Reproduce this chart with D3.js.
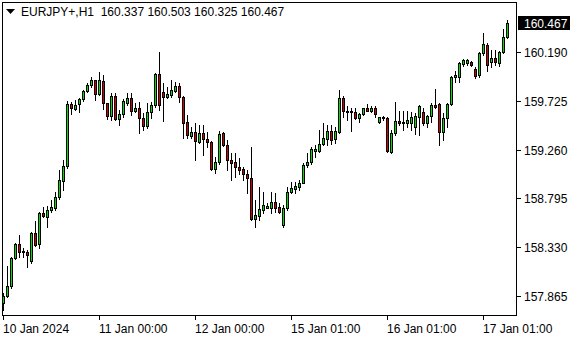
<!DOCTYPE html>
<html>
<head>
<meta charset="utf-8">
<script src="https://cdn.jsdelivr.net/npm/d3@7"></script>
<style>
  body { margin: 0; background: #fff; }
  text { font-family: "Liberation Sans", Arial, sans-serif; font-size: 12px; }
</style>
</head>
<body>
<div id="chart"></div>
<script>
// EURJPY+ H1 bars, oldest first
var opens = [157.796,157.863,157.959,158.226,158.360,158.288,158.283,158.200,158.465,158.360,
  158.659,158.620,158.684,158.704,158.809,158.961,159.105,159.697,159.652,159.694,
  159.744,159.821,159.875,159.923,159.789,159.916,159.703,159.585,159.773,159.551,
  159.598,159.709,159.751,159.633,159.656,159.560,159.490,159.617,159.687,159.980,
  159.814,159.761,159.783,159.823,159.868,159.766,159.528,159.391,159.432,159.337,
  159.417,159.363,159.331,159.073,159.140,159.417,159.305,159.162,159.143,159.092,
  159.073,159.028,158.987,158.599,158.630,158.684,158.707,158.707,158.764,158.716,
  158.541,158.701,158.853,158.882,158.907,158.945,159.114,159.140,159.251,159.251,
  159.312,159.363,159.442,159.359,159.432,159.751,159.633,159.623,159.623,159.560,
  159.601,159.656,159.630,159.656,159.528,159.560,159.560,159.241,159.417,159.537,
  159.512,159.512,159.512,159.480,159.570,159.617,159.512,159.582,159.687,159.697,
  159.432,159.560,159.697,159.952,159.952,160.076,160.085,160.098,160.031,159.971,
  160.181,160.260,160.098,160.133,160.085,160.190,160.337];

var highs = [157.892,158.150,158.236,158.369,158.446,158.321,158.302,158.474,158.579,158.665,
  158.716,158.723,158.780,158.856,159.066,159.162,159.725,159.719,159.735,159.757,
  159.830,159.894,159.957,159.926,159.999,159.974,159.709,159.799,159.799,159.639,
  159.742,159.799,159.799,159.703,159.719,159.608,159.703,159.719,159.990,160.193,
  159.894,159.862,159.926,159.910,159.894,159.770,159.592,159.480,159.512,159.496,
  159.496,159.432,159.340,159.194,159.442,159.432,159.353,159.226,159.226,159.181,
  159.098,159.066,159.289,158.780,158.907,158.860,158.754,158.859,158.844,158.748,
  158.732,158.907,158.955,158.955,158.971,159.130,159.226,159.289,159.305,159.448,
  159.512,159.496,159.496,159.480,159.830,159.773,159.678,159.658,159.658,159.611,
  159.658,159.697,159.678,159.678,159.576,159.582,159.573,159.448,159.719,159.630,
  159.633,159.633,159.623,159.608,159.687,159.656,159.592,159.703,159.837,159.703,
  159.608,159.703,159.964,160.012,160.101,160.126,160.123,160.107,160.050,160.193,
  160.378,160.276,160.212,160.212,160.203,160.410,160.503];

var lows = [157.729,157.854,157.940,158.216,158.238,158.236,158.140,158.175,158.340,158.324,
  158.618,158.525,158.665,158.684,158.790,158.875,159.086,159.598,159.639,159.617,
  159.728,159.814,159.856,159.735,159.780,159.649,159.551,159.544,159.544,159.496,
  159.575,159.687,159.592,159.623,159.417,159.448,159.465,159.560,159.671,159.639,
  159.534,159.751,159.766,159.814,159.719,159.369,159.369,159.369,159.162,159.320,
  159.210,159.286,159.066,159.035,159.124,159.295,159.066,158.971,159.003,159.028,
  158.971,158.844,158.589,158.525,158.589,158.653,158.704,158.653,158.668,158.653,
  158.525,158.684,158.844,158.844,158.875,158.939,159.098,159.124,159.188,159.238,
  159.305,159.305,159.312,159.321,159.417,159.576,159.544,159.442,159.554,159.527,
  159.592,159.630,159.620,159.573,159.512,159.544,159.241,159.232,159.401,159.496,
  159.448,159.480,159.448,159.410,159.401,159.496,159.480,159.528,159.656,159.305,
  159.353,159.480,159.687,159.910,159.910,160.063,160.069,160.060,159.945,159.955,
  160.165,160.015,160.053,160.069,160.060,160.181,160.325];

var closes = [157.863,157.959,158.226,158.360,158.286,158.283,158.255,158.462,158.350,158.653,
  158.630,158.684,158.713,158.809,158.971,159.105,159.697,159.656,159.684,159.742,
  159.821,159.875,159.923,159.789,159.923,159.703,159.585,159.773,159.551,159.598,
  159.725,159.751,159.633,159.656,159.560,159.490,159.617,159.687,159.980,159.687,
  159.761,159.789,159.830,159.868,159.766,159.512,159.401,159.432,159.343,159.417,
  159.363,159.331,159.073,159.140,159.410,159.305,159.162,159.136,159.092,159.066,
  159.028,158.987,158.599,158.637,158.691,158.732,158.723,158.764,158.707,158.668,
  158.701,158.859,158.892,158.917,158.945,159.114,159.146,159.264,159.267,159.315,
  159.369,159.442,159.353,159.439,159.751,159.633,159.623,159.633,159.560,159.601,
  159.656,159.633,159.656,159.598,159.570,159.573,159.248,159.417,159.537,159.512,
  159.528,159.544,159.576,159.582,159.678,159.512,159.582,159.687,159.671,159.432,
  159.560,159.697,159.952,159.971,160.085,160.117,160.114,160.066,159.961,160.181,
  160.270,160.069,160.139,160.095,160.196,160.339,160.467];

// right price scale labels
var priceTicks = [157.865, 158.330, 158.795, 159.260, 159.725, 160.190];

// bottom time scale, one label every 24 bars
var timeLabels = ["10 Jan 2024", "11 Jan 00:00", "12 Jan 00:00", "15 Jan 01:00", "16 Jan 01:00", "17 Jan 01:00"];
var timeLabelBars = [0, 24, 48, 72, 96, 120];

var svgWidth = 580;
var svgHeight = 340;
var plot = { left: 2, top: 2, right: 516, bottom: 315 };

var svg = d3.select("#chart")
  .append("svg")
  .attr("width", svgWidth)
  .attr("height", svgHeight)
  .style("display", "block");

// 4px per bar
var xScale = d3.scaleLinear()
  .domain([0, opens.length - 1])
  .range([3, 3 + 4 * (opens.length - 1)]);

var yScale = d3.scaleLinear()
  .domain([priceTicks[0], priceTicks[priceTicks.length - 1]])
  .range([295.7, 52.3]);

var py = v => Math.round(yScale(v));

var bars = d3.range(opens.length).map(i => ({
  i: i, o: opens[i], h: highs[i], l: lows[i], c: closes[i]
}));

// frame
svg.append("rect")
  .attr("x", plot.left + 0.5)
  .attr("y", plot.top + 0.5)
  .attr("width", plot.right - plot.left)
  .attr("height", plot.bottom - plot.top)
  .attr("fill", "none")
  .attr("stroke", "#000");

var candles = svg.append("g");

// wicks
candles.selectAll("line")
  .data(bars)
  .enter()
  .append("line")
  .attr("x1", d => xScale(d.i) + 0.5)
  .attr("x2", d => xScale(d.i) + 0.5)
  .attr("y1", d => py(d.h))
  .attr("y2", d => py(d.l) + 1)
  .attr("stroke", "#000");

// bodies
candles.selectAll("rect")
  .data(bars)
  .enter()
  .append("rect")
  .attr("x", d => xScale(d.i) - 0.5)
  .attr("y", d => py(Math.max(d.o, d.c)) + 0.5)
  .attr("width", 2)
  .attr("height", d => Math.max(py(Math.min(d.o, d.c)) - py(Math.max(d.o, d.c)), 0))
  .attr("fill", d => d.c >= d.o ? "#00e000" : "#d00000")
  .attr("stroke", "#000");

// price axis on the right
var yAxis = svg.append("g");
priceTicks.forEach(t => {
  yAxis.append("line")
    .attr("x1", plot.right + 1)
    .attr("x2", plot.right + 5)
    .attr("y1", py(t) + 0.5)
    .attr("y2", py(t) + 0.5)
    .attr("stroke", "#000");
  yAxis.append("text")
    .attr("x", 524)
    .attr("y", py(t))
    .attr("dy", "0.38em")
    .attr("fill", "#000")
    .text(t.toFixed(3));
});

// current price tag
var last = closes[closes.length - 1];
svg.append("rect")
  .attr("x", 518)
  .attr("y", py(last) - 7)
  .attr("width", 52)
  .attr("height", 14)
  .attr("fill", "#000");
svg.append("text")
  .attr("x", 524)
  .attr("y", py(last))
  .attr("dy", "0.38em")
  .attr("fill", "#fff")
  .text(last.toFixed(3));

// time axis
var xAxis = svg.append("g");
timeLabelBars.forEach((b, k) => {
  xAxis.append("line")
    .attr("x1", xScale(b) + 0.5)
    .attr("x2", xScale(b) + 0.5)
    .attr("y1", plot.bottom + 1)
    .attr("y2", plot.bottom + 5)
    .attr("stroke", "#000");
  xAxis.append("text")
    .attr("x", xScale(b))
    .attr("y", 332.5)
    .attr("fill", "#000")
    .text(timeLabels[k]);
});

// header: symbol, timeframe and last bar OHLC
var n = opens.length - 1;
svg.append("path")
  .attr("d", "M6,9L15,9L10.5,14Z")
  .attr("fill", "#000");
svg.append("text")
  .attr("x", 21)
  .attr("y", 15.5)
  .attr("xml:space", "preserve")
  .style("white-space", "pre")
  .attr("fill", "#000")
  .text("EURJPY+,H1  " + [opens[n], highs[n], lows[n], closes[n]].map(v => v.toFixed(3)).join(" "));
</script>
</body>
</html>
